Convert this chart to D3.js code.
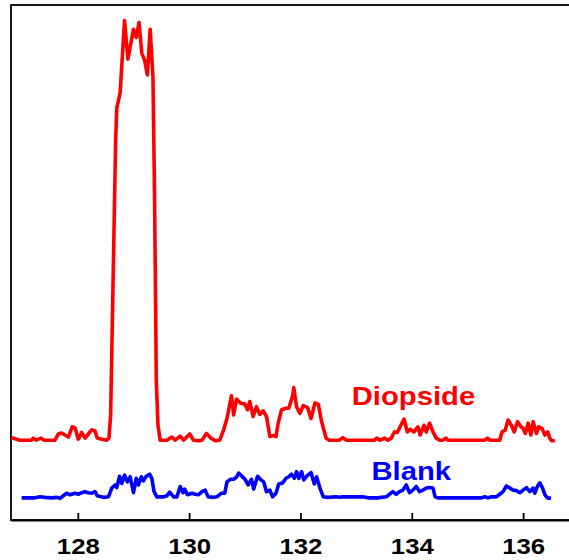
<!DOCTYPE html>
<html lang="en">
<head>
    <meta charset="utf-8">
    <title>Diopside vs Blank</title>
    <script src="https://d3js.org/d3.v7.min.js" charset="utf-8"></script>
    <style type="text/css">
        body { margin: 0; background: #fff; }
    </style>
</head>
<body>
<svg id="svg"></svg>
<script type="text/javascript">

    // x positions and intensities (arbitrary units, offsets included)
    var diopsideX = [126.80, 126.96, 127.17, 127.20, 127.25, 127.34, 127.39, 127.59, 127.65, 127.71, 127.77, 127.83,
        127.90, 127.95, 128.01, 128.07, 128.13, 128.19, 128.25, 128.31, 128.35, 128.43, 128.52, 128.56, 128.59,
        128.68, 128.70, 128.76, 128.84, 128.90, 129.00, 129.05, 129.10, 129.15, 129.20, 129.25, 129.30, 129.35,
        129.38, 129.41, 129.44, 129.48, 129.60, 129.69, 129.75, 129.84, 129.90, 130.01, 130.08, 130.17, 130.23,
        130.31, 130.38, 130.47, 130.55, 130.62, 130.68, 130.76, 130.80, 130.85, 130.92, 131.00, 131.05, 131.09,
        131.15, 131.21, 131.27, 131.33, 131.39, 131.45, 131.51, 131.56, 131.60, 131.66, 131.74, 131.79, 131.86,
        131.88, 131.93, 131.99, 132.05, 132.13, 132.19, 132.26, 132.32, 132.38, 132.46, 132.52, 132.70, 132.76,
        132.82, 133.33, 133.37, 133.43, 133.51, 133.57, 133.63, 133.69, 133.74, 133.79, 133.86, 133.92, 133.97,
        134.04, 134.11, 134.15, 134.22, 134.26, 134.32, 134.38, 134.44, 134.50, 134.56, 134.61, 134.65, 135.31,
        135.36, 135.40, 135.58, 135.62, 135.68, 135.73, 135.79, 135.84, 135.90, 135.96, 136.00, 136.04, 136.09,
        136.14, 136.18, 136.24, 136.28, 136.34, 136.39, 136.44, 136.48, 136.51, 136.57];
    var diopsideY = [16.0, 15.5, 15.5, 15.9, 15.5, 15.9, 15.5, 15.5, 16.7, 16.9, 16.5, 16.1,
        18.1, 17.9, 15.7, 17.0, 15.9, 16.7, 17.5, 17.3, 15.9, 15.7, 15.5, 15.9, 20.4,
        73.8, 80.0, 82.9, 97.0, 89.5, 95.3, 93.7, 96.6, 90.6, 89.3, 86.4, 95.3, 86.1,
        62.1, 27.2, 18.4, 15.5, 15.5, 16.1, 15.5, 16.3, 15.5, 16.7, 15.5, 15.4, 15.5,
        16.8, 16.0, 15.4, 15.5, 17.5, 19.7, 24.1, 20.4, 23.5, 22.7, 22.5, 21.4, 23.0,
        20.1, 22.0, 20.5, 21.2, 20.1, 16.2, 16.4, 16.2, 18.8, 21.4, 21.7, 21.7, 24.1,
        25.7, 22.0, 20.7, 22.2, 21.8, 19.7, 22.7, 22.5, 19.1, 15.9, 15.5, 15.5, 16.0,
        15.5, 15.5, 15.9, 15.5, 15.9, 15.5, 15.9, 17.1, 17.0, 18.1, 19.6, 17.1, 17.6,
        17.1, 18.1, 16.5, 18.4, 17.1, 18.8, 17.1, 15.9, 15.5, 15.5, 15.9, 15.5, 15.5,
        15.9, 15.5, 15.5, 17.1, 17.5, 19.4, 18.4, 17.1, 19.1, 18.1, 17.8, 16.8, 18.8,
        16.5, 19.1, 16.8, 18.1, 17.8, 16.5, 17.1, 15.9, 15.4, 15.4];

    var blankX = [126.99, 127.14, 127.23, 127.32, 127.41, 127.53, 127.62, 127.68, 127.74, 127.80, 127.86, 127.95,
        128.01, 128.07, 128.13, 128.19, 128.25, 128.31, 128.35, 128.46, 128.55, 128.61, 128.67, 128.70, 128.75,
        128.79, 128.84, 128.89, 128.94, 129.00, 129.05, 129.09, 129.14, 129.18, 129.23, 129.29, 129.33, 129.37,
        129.42, 129.54, 129.60, 129.65, 129.72, 129.78, 129.84, 129.89, 129.92, 129.97, 130.05, 130.11, 130.17,
        130.23, 130.29, 130.34, 130.44, 130.50, 130.58, 130.64, 130.68, 130.74, 130.80, 130.85, 130.89, 130.95,
        131.01, 131.06, 131.12, 131.16, 131.23, 131.28, 131.34, 131.39, 131.45, 131.50, 131.56, 131.61, 131.68,
        131.74, 131.79, 131.84, 131.89, 131.93, 131.97, 132.02, 132.06, 132.13, 132.19, 132.25, 132.29, 132.35,
        132.41, 132.49, 132.64, 132.70, 132.76, 133.12, 133.21, 133.39, 133.54, 133.60, 133.66, 133.72, 133.78,
        133.84, 133.90, 133.96, 134.02, 134.08, 134.14, 134.20, 134.26, 134.32, 134.38, 134.42, 134.47, 135.25,
        135.31, 135.37, 135.43, 135.52, 135.58, 135.64, 135.70, 135.76, 135.82, 135.88, 135.94, 136.00, 136.06,
        136.12, 136.18, 136.21, 136.26, 136.30, 136.35, 136.39, 136.44, 136.50];
    var blankY = [4.3, 4.3, 4.3, 4.5, 4.4, 4.3, 4.4, 4.2, 4.7, 5.2, 4.9, 5.2,
        5.0, 5.3, 5.5, 5.3, 5.2, 5.5, 4.7, 4.4, 4.5, 6.2, 6.8, 6.3, 8.5,
        7.1, 8.7, 7.4, 8.4, 5.3, 8.1, 6.8, 8.4, 7.6, 8.5, 8.9, 8.1, 5.5,
        4.5, 4.5, 4.7, 5.4, 4.5, 4.5, 6.5, 5.3, 6.0, 4.9, 5.2, 5.0, 4.9,
        5.5, 5.8, 4.5, 4.4, 4.5, 5.2, 5.2, 7.4, 7.9, 7.9, 8.3, 9.1, 8.5,
        7.8, 6.8, 7.9, 6.0, 8.5, 7.9, 7.4, 5.5, 5.8, 4.5, 5.2, 7.0, 7.2,
        8.1, 8.4, 8.9, 8.1, 9.4, 8.1, 9.4, 7.8, 8.7, 9.2, 7.0, 8.4, 6.2,
        4.5, 4.4, 4.5, 4.4, 4.5, 4.5, 4.3, 4.3, 4.5, 5.0, 5.5, 5.0, 5.5,
        5.8, 6.8, 5.3, 5.8, 6.5, 5.5, 5.8, 6.2, 6.3, 6.2, 4.5, 4.3, 4.3,
        4.5, 4.3, 4.5, 4.5, 5.0, 5.5, 6.6, 6.2, 5.8, 5.7, 5.3, 5.8, 6.3,
        5.5, 6.2, 5.2, 6.6, 7.2, 6.2, 4.9, 4.3, 4.2];

    var xTicks = [128, 130, 132, 134, 136];
    var xDomain = [126.8, 136.95];
    var yDomain = [0, 100];

    var labels = [
        { text: 'Diopside', x: 134.03, y: 22.3, color: '#ff0000' },
        { text: 'Blank', x: 133.99, y: 7.8, color: '#0000ff' }
    ];

    function draw() {
        var width = 569, height = 560;
        var left = 11, right = 576, top = 5, bottom = 520;
        var fontFamily = '"Liberation Sans", Arial, sans-serif';
        var stretch = 1.17;

        var svg = d3.select('#svg')
                .attr('width', width)
                .attr('height', height);

        var x = d3.scaleLinear().domain(xDomain).range([left, right]);
        var y = d3.scaleLinear().domain(yDomain).range([bottom, top]);

        // frame (right edge falls outside the picture)
        svg.append('rect')
                .attr('x', left)
                .attr('y', top)
                .attr('width', right - left)
                .attr('height', bottom - top)
                .style('fill', 'none')
                .style('stroke', '#000')
                .style('stroke-width', 1.8);

        var axis = svg.append('g')
                .attr('transform', 'translate(0,' + bottom + ')')
                .call(d3.axisBottom(x)
                        .tickValues(xTicks)
                        .tickFormat(d3.format('d'))
                        .tickSizeInner(-7)
                        .tickSizeOuter(0)
                        .tickPadding(18));

        axis.select('.domain')
                .style('stroke', '#000')
                .style('stroke-width', 2);
        axis.selectAll('.tick line')
                .style('stroke', '#000')
                .style('stroke-width', 1.8);
        axis.selectAll('.tick text')
                .attr('y', null)
                .attr('dy', null)
                .attr('transform', 'translate(0,34) scale(' + stretch + ',1)')
                .style('font-family', fontFamily)
                .style('font-weight', 'bold')
                .style('font-size', '22px')
                .style('fill', '#000');

        var line = d3.line()
                .x(function (d) { return x(d[0]); })
                .y(function (d) { return y(d[1]); });

        var series = [
            { xs: diopsideX, ys: diopsideY, color: '#ff0000' },
            { xs: blankX, ys: blankY, color: '#0000ff' }
        ];

        series.forEach(function (s) {
            svg.append('path')
                    .datum(d3.zip(s.xs, s.ys))
                    .attr('d', line)
                    .style('fill', 'none')
                    .style('stroke', s.color)
                    .style('stroke-width', 3.6)
                    .style('stroke-linejoin', 'round');
        });

        svg.selectAll('text.label')
                .data(labels)
                .enter()
                .append('text')
                .attr('class', 'label')
                .attr('transform', function (d) {
                    return 'translate(' + x(d.x) + ',' + y(d.y) + ') scale(' + stretch + ',1)';
                })
                .attr('text-anchor', 'middle')
                .style('font-family', fontFamily)
                .style('font-weight', 'bold')
                .style('font-size', '25px')
                .style('fill', function (d) { return d.color; })
                .text(function (d) { return d.text; });
    }

    draw();
</script>
</body>
</html>
